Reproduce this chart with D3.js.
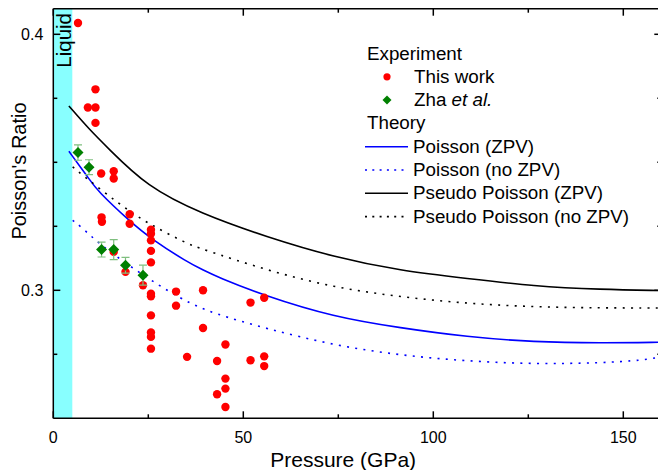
<!DOCTYPE html>
<html>
<head>
<meta charset="utf-8">
<script src="https://cdn.jsdelivr.net/npm/d3@7"></script>
<style>
  html, body { margin: 0; padding: 0; background: #fff; }
  svg { display: block; font-family: "Liberation Sans", Arial, sans-serif; }
</style>
</head>
<body>
<svg id="chart" width="658" height="470"></svg>
<script>
// ---------- data ----------
const thisWorkP = [6.5, 11.1, 9.1, 11.1, 11.1, 12.6, 15.9, 15.9, 12.7, 12.8, 20.1, 20.1,
  25.7, 25.7, 25.7, 25.7, 25.7, 25.7, 25.7, 25.7, 25.7, 25.7, 25.7,
  15.9, 19.0, 23.6, 32.3, 32.3, 39.4, 39.4, 35.2, 43.1, 43.1,
  45.3, 45.3, 45.3, 45.3, 51.9, 51.9, 55.5, 55.5, 55.5];
const thisWorkV = [0.4044, 0.3785, 0.3714, 0.3714, 0.3654, 0.3456, 0.3465, 0.3437, 0.3285, 0.3268, 0.3297, 0.3260,
  0.3237, 0.3221, 0.3195, 0.3154, 0.3109, 0.2987, 0.2977, 0.2902, 0.2835, 0.2818, 0.2772,
  0.3150, 0.3072, 0.3020, 0.2995, 0.2940, 0.3000, 0.2853, 0.2740, 0.2724, 0.2594,
  0.2788, 0.2655, 0.2616, 0.2544, 0.2952, 0.2727, 0.2971, 0.2742, 0.2704];

const zhaP = [6.5, 9.4, 12.7, 15.9, 19.0, 23.6];
const zhaV = [0.3538, 0.3481, 0.3159, 0.3159, 0.3098, 0.3059];
const zhaErr = [0.0030, 0.0029, 0.0029, 0.0039, 0.0031, 0.0039];

const poissonZpvP = [4.1, 9.4, 11.5, 20.3, 26, 35.2, 39.6, 43.2, 55.4, 73.8, 91.4, 108.9, 126.5, 144, 160];
const poissonZpvV = [0.3543, 0.3436, 0.3390, 0.3267, 0.3198, 0.3111, 0.3078, 0.3052, 0.2980, 0.2896, 0.2853, 0.2818, 0.2798, 0.2794, 0.2797];

const poissonNoZpvP = [5.1, 7.2, 12.0, 21.6, 34.0, 42.2, 56.2, 73.8, 91.4, 108.9, 126.5, 144, 155.3, 160];
const poissonNoZpvV = [0.3273, 0.3250, 0.3182, 0.3078, 0.2961, 0.2909, 0.2850, 0.2785, 0.2746, 0.2723, 0.2712, 0.2716, 0.2727, 0.2740];

const pseudoZpvP = [4.1, 9.7, 14.1, 24.7, 38.8, 56.2, 73.8, 91.4, 108.9, 126.5, 144, 160];
const pseudoZpvV = [0.3720, 0.3625, 0.3560, 0.3404, 0.3300, 0.3208, 0.3130, 0.3076, 0.3046, 0.3016, 0.3003, 0.2999];

const pseudoNoZpvP = [5.1, 13.2, 20.3, 25.6, 35.2, 38.8, 56.2, 73.8, 91.4, 108.9, 126.5, 144, 160];
const pseudoNoZpvV = [0.3482, 0.3384, 0.3306, 0.3256, 0.3182, 0.3163, 0.3078, 0.3011, 0.2974, 0.2948, 0.2935, 0.2931, 0.2931];

const liquidRange = [0, 5.0];
const xMajorTicks = [0, 50, 100, 150];
const xMinorTicks = [25, 75, 125];
const yMajorTicks = [0.3, 0.4];
const yMinorTicks = [0.275, 0.325, 0.35, 0.375];

const legendExperiment = ["This work", "Zha et al."];
const legendTheory = ["Poisson (ZPV)", "Poisson (no ZPV)", "Pseudo Poisson (ZPV)", "Pseudo Poisson (no ZPV)"];

// ---------- layout ----------
const svg = d3.select("#chart");
const L = 53.3, R = 661.3, T = 8.7, B = 418.3;
const x = d3.scaleLinear().domain([0, 160]).range([L, R]);
const y = d3.scaleLinear().domain([0.25, 0.41]).range([B, T]);

svg.append("clipPath").attr("id", "clip").append("rect")
  .attr("x", L).attr("y", T).attr("width", R - L).attr("height", B - T);

// liquid band
svg.append("rect")
  .attr("x", x(liquidRange[0])).attr("y", T)
  .attr("width", x(liquidRange[1]) - x(liquidRange[0])).attr("height", B - T)
  .attr("fill", "#88ffff");

svg.append("text")
  .attr("transform", `translate(70.5,13) rotate(-90)`)
  .attr("text-anchor", "end")
  .attr("font-size", 20.5)
  .attr("fill", "#000")
  .text("Liquid");

// curves
const plot = svg.append("g").attr("clip-path", "url(#clip)");
const line = d3.line().x(d => x(d[0])).y(d => y(d[1])).curve(d3.curveBasis);
const zip = (a, b) => a.map((v, i) => [v, b[i]]);

const curves = [
  { p: poissonZpvP, v: poissonZpvV, color: "#0000ff", dash: null },
  { p: poissonNoZpvP, v: poissonNoZpvV, color: "#0000ff", dash: "2,6.3" },
  { p: pseudoZpvP, v: pseudoZpvV, color: "#000000", dash: null },
  { p: pseudoNoZpvP, v: pseudoNoZpvV, color: "#000000", dash: "2,6.3" }
];
curves.forEach(c => {
  plot.append("path")
    .attr("d", line(zip(c.p, c.v)))
    .attr("fill", "none")
    .attr("stroke", c.color)
    .attr("stroke-width", 1.6)
    .attr("stroke-dasharray", c.dash);
});

// this work (red dots)
plot.selectAll("circle.tw").data(zip(thisWorkP, thisWorkV)).enter()
  .append("circle").attr("class", "tw")
  .attr("cx", d => x(d[0])).attr("cy", d => y(d[1]))
  .attr("r", 4.2).attr("fill", "#ff0000");

// Zha et al. (green diamonds with error bars)
const zha = zhaP.map((p, i) => ({ p, v: zhaV[i], e: zhaErr[i] }));
const eb = plot.append("g").attr("stroke", "#7fbf7f").attr("stroke-width", 1.2);
zha.forEach(d => {
  const cx = x(d.p), y1 = y(d.v + d.e), y2 = y(d.v - d.e);
  eb.append("line").attr("x1", cx).attr("x2", cx).attr("y1", y1).attr("y2", y2);
  eb.append("line").attr("x1", cx - 4).attr("x2", cx + 4).attr("y1", y1).attr("y2", y1);
  eb.append("line").attr("x1", cx - 4).attr("x2", cx + 4).attr("y1", y2).attr("y2", y2);
});
const diamond = (cx, cy, s) => `M${cx},${cy - s}L${cx + s},${cy}L${cx},${cy + s}L${cx - s},${cy}Z`;
plot.selectAll("path.zha").data(zha).enter()
  .append("path").attr("class", "zha")
  .attr("d", d => diamond(x(d.p), y(d.v), 5.5))
  .attr("fill", "#008000");

// ---------- axes ----------
const axisColor = "#000";
const ax = svg.append("g").attr("stroke", axisColor).attr("stroke-width", 1.5).attr("fill", "none");
ax.append("line").attr("x1", L).attr("x2", R).attr("y1", B).attr("y2", B);
ax.append("line").attr("x1", L).attr("x2", R).attr("y1", T).attr("y2", T);
ax.append("line").attr("x1", L).attr("x2", L).attr("y1", T).attr("y2", B);
ax.append("line").attr("x1", R).attr("x2", R).attr("y1", T).attr("y2", B);

function xTicks(vals, len) {
  vals.forEach(v => {
    ax.append("line").attr("x1", x(v)).attr("x2", x(v)).attr("y1", B).attr("y2", B - len);
    ax.append("line").attr("x1", x(v)).attr("x2", x(v)).attr("y1", T).attr("y2", T + len);
  });
}
function yTicks(vals, len) {
  vals.forEach(v => {
    ax.append("line").attr("y1", y(v)).attr("y2", y(v)).attr("x1", L).attr("x2", L + len);
    ax.append("line").attr("y1", y(v)).attr("y2", y(v)).attr("x1", R).attr("x2", R - len);
  });
}
xTicks(xMajorTicks, 7); xTicks(xMinorTicks, 4);
yTicks(yMajorTicks, 7); yTicks(yMinorTicks, 4);

const fmtX = d3.format("d");
svg.append("g").selectAll("text").data(xMajorTicks).enter().append("text")
  .attr("x", d => x(d)).attr("y", 443)
  .attr("text-anchor", "middle").attr("font-size", 16).attr("fill", "#000")
  .text(d => fmtX(d));

const fmtY = d3.format(".1f");
svg.append("g").selectAll("text").data(yMajorTicks).enter().append("text")
  .attr("x", L - 10).attr("y", d => y(d) + 5.8)
  .attr("text-anchor", "end").attr("font-size", 16).attr("fill", "#000")
  .text(d => fmtY(d));

svg.append("text")
  .attr("x", (L + 633) / 2).attr("y", 467)
  .attr("text-anchor", "middle").attr("font-size", 21).attr("fill", "#000")
  .text("Pressure (GPa)");

svg.append("text")
  .attr("transform", `translate(26,171) rotate(-90)`)
  .attr("text-anchor", "middle").attr("font-size", 20).attr("fill", "#000")
  .text("Poisson's Ratio");

// ---------- legend ----------
const lg = svg.append("g").attr("font-size", 18.8).attr("fill", "#000");
const rowY = i => 59.5 + i * 23.3;
lg.append("text").attr("x", 367).attr("y", rowY(0)).text("Experiment");
lg.append("circle").attr("cx", 387).attr("cy", rowY(1) - 6).attr("r", 3.6).attr("fill", "#ff0000");
lg.append("text").attr("x", 414).attr("y", rowY(1)).text(legendExperiment[0]);
lg.append("path").attr("d", diamond(387, rowY(2) - 6, 4.5)).attr("fill", "#008000");
const zt = lg.append("text").attr("x", 414).attr("y", rowY(2));
zt.append("tspan").text("Zha ");
zt.append("tspan").attr("font-style", "italic").text("et al.");
lg.append("text").attr("x", 367).attr("y", rowY(3)).text("Theory");
legendTheory.forEach((name, i) => {
  const c = curves[i];
  const ry = rowY(4 + i);
  lg.append("line").attr("x1", 365).attr("x2", 408).attr("y1", ry - 6).attr("y2", ry - 6)
    .attr("stroke", c.color).attr("stroke-width", 1.6).attr("stroke-dasharray", c.dash ? "2,5.3" : null);
  lg.append("text").attr("x", 413).attr("y", ry).text(name);
});
</script>
</body>
</html>
